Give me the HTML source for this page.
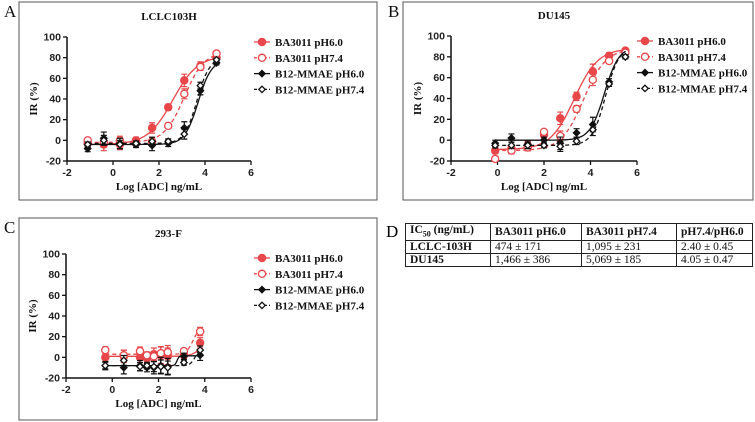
<!DOCTYPE html>
<html><head><meta charset="utf-8">
<style>
html,body{margin:0;padding:0;background:#fff;}
body{width:755px;height:422px;overflow:hidden;position:relative;}
svg{position:absolute;left:0;top:0;}
.tk{font-family:"Liberation Sans",sans-serif;font-weight:bold;font-size:10.5px;fill:#222;}
.sf{font-family:"Liberation Serif",serif;font-weight:bold;fill:#111;}
.pl{font-family:"Liberation Serif",serif;font-size:17px;fill:#111;}
table{position:absolute;left:405px;top:223px;border-collapse:collapse;font-family:"Liberation Serif",serif;font-size:11.5px;color:#111;}
td{border:1px solid #222;padding:0 4px;height:12px;line-height:12px;}
td.b{font-weight:bold;}
</style></head><body>
<svg id="fig" width="755" height="422"></svg>
<div class="pl" style="position:absolute;left:386px;top:222px;font-family:'Liberation Serif',serif;font-size:17px;">D</div>
<table>
<tr><td class="b" style="width:76px">IC<sub style="font-size:8px">50</sub> (ng/mL)</td><td class="b" style="width:82px">BA3011 pH6.0</td><td class="b" style="width:86px">BA3011 pH7.4</td><td class="b" style="width:67px">pH7.4/pH6.0</td></tr>
<tr><td class="b">LCLC-103H</td><td>474 ± 171</td><td>1,095 ± 231</td><td>2.40 ± 0.45</td></tr>
<tr><td class="b">DU145</td><td>1,466 ± 386</td><td>5,069 ± 185</td><td>4.05 ± 0.47</td></tr>
</table>
<script>
// Panel A (LCLC103H)
const xA=[-1.1,-0.4,0.3,1.0,1.7,2.4,3.1,3.8,4.5];
const a_ba60=[-3,-4,-4,0,12,32,58,72,80];
const a_ba74=[0,-2,0,-3,-1,14,45,71,84];
const a_b1260=[-8,2,-3,-4,-5,-3,12,48,75];
const a_b1274=[-4,0,-4,-3,-1,-1,6,53,78];
const a_err=[3,6,5,3,5,3,6,4,2];
const a_fit=[[-4,82,2.6,0.8],[-2,86,3.1,1.0],[-4,78,3.7,1.5],[-3,80,3.65,1.6]];
// Panel B (DU145)
const xB=[-0.1,0.6,1.3,2.0,2.7,3.4,4.1,4.8,5.5];
const b_ba60=[-10,-8,-5,5,21,42,66,81,86];
const b_ba74=[-18,-10,-7,8,4,30,58,76,84];
const b_b1260=[-3,2,-4,0,-3,7,15,56,80];
const b_b1274=[-5,-5,-5,-5,-6,-1,10,54,80];
const b_err=[3,4,4,3,6,4,7,3,2];
const b_fit=[[-9,88,3.3,0.85],[-10,88,3.7,0.9],[0,90,4.6,1.4],[-5,90,4.65,1.5]];
// Panel C (293-F)
const xC=[-0.3,0.5,1.2,1.5,1.8,2.1,2.4,3.1,3.8];
const c_ba60=[0,1,0,-1,3,2,1,2,14];
const c_ba74=[7,2,6,2,1,4,5,6,25];
const c_b1260=[-8,-10,-8,-10,-10,-8,-9,1,2];
const c_b1274=[-8,-3,-9,-8,-9,-9,-10,-5,7];
const c_err=[4,6,5,4,6,8,8,3,5];
const c_fit=[[1,20,3.9,2],[3,30,3.5,3],[-8,1.5,2.8,10],[-8,10,3.6,4]];
const yTicks=[-20,0,20,40,60,80,100];
const xTicks=[-2,0,2,4,6];
const seriesNames=["BA3011 pH6.0","BA3011 pH7.4","B12-MMAE pH6.0","B12-MMAE pH7.4"];

const NS="http://www.w3.org/2000/svg";
const svg=document.getElementById('fig');
function mk(tag,attrs,parent,txt){const e=document.createElementNS(NS,tag);for(const k in attrs)e.setAttribute(k,attrs[k]);if(txt!==undefined)e.textContent=txt;(parent||svg).appendChild(e);return e;}
const RED="#e8474a";
const styles=[{c:RED,dash:"",fill:true,m:"circle"},{c:RED,dash:"4,3",fill:false,m:"circle"},{c:"#111",dash:"",fill:true,m:"diamond"},{c:"#111",dash:"4,3",fill:false,m:"diamond"}];
function marker(g,kind,s,x,y,r){
  if(kind==="circle"){const e=mk('circle',{cx:x,cy:y,r:r,fill:s.fill?s.c:'#fff',stroke:s.c,'stroke-width':1.3},g);return e;}
  const e=mk('polygon',{points:`${x},${y-r} ${x+r},${y} ${x},${y+r} ${x-r},${y}`,fill:s.fill?s.c:'#fff',stroke:s.c,'stroke-width':1.3},g);return e;
}
function panel(p){
  const g=mk('g',{});
  
  
  const box=mk('rect',{x:p.box[0],y:p.box[1],width:p.box[2],height:p.box[3],fill:'none',stroke:'#555','stroke-width':1},g);
  
  const lab=mk('text',{x:p.box[0]-15,y:p.box[1]+15,class:'pl'},g,p.id.toUpperCase());
  
  const X=v=>p.x0+(v+2)/8*(p.x1-p.x0);
  const Y=v=>p.yb+(v+20)/120*(p.yt-p.yb);
  const t=mk('text',{x:(p.x0+p.x1)/2+10,y:p.yt-17,class:'sf','font-size':11,'text-anchor':'middle'},g,p.title);
  
  const ya=mk('line',{x1:p.x0,y1:p.yt,x2:p.x0,y2:p.yb,stroke:'#111','stroke-width':1.5},g);
  
  const xa=mk('line',{x1:p.x0,y1:p.yb,x2:p.x1,y2:p.yb,stroke:'#111','stroke-width':1.5},g);
  
  yTicks.forEach(v=>{mk('line',{x1:p.x0-4,x2:p.x0,y1:Y(v),y2:Y(v),stroke:'#111','stroke-width':1.3},g);
    const l=mk('text',{x:p.x0-6,y:Y(v)+3.5,class:'tk','text-anchor':'end'},g,v);
    });
  xTicks.forEach(v=>{mk('line',{x1:X(v),x2:X(v),y1:p.yb,y2:p.yb+4,stroke:'#111','stroke-width':1.3},g);
    const l=mk('text',{x:X(v),y:p.yb+15,class:'tk','text-anchor':'middle'},g,v);
    });
  const yt=mk('text',{x:0,y:0,class:'sf','font-size':11,'text-anchor':'middle',transform:`translate(${p.x0-30},${(p.yt+p.yb)/2}) rotate(-90)`},g,'IR (%)');
  
  const xt=mk('text',{x:(p.x0+p.x1)/2,y:p.yb+29,class:'sf','font-size':11,'text-anchor':'middle'},g,'Log [ADC] ng/mL');
  
  p.series.forEach((ys,i)=>{
    const s=styles[i];const f=p.fit[i];
    const sg=mk('g',{},g);
    
    
    let d='';const xs=p.xs;const lo=xs[0],hi=xs[xs.length-1];
    for(let k=0;k<=80;k++){const xv=lo+(hi-lo)*k/80;const yv=f[0]+(f[1]-f[0])/(1+Math.pow(10,(f[2]-xv)*f[3]));d+=(k?'L':'M')+X(xv).toFixed(1)+','+Y(yv).toFixed(1);}
    const c=mk('path',{d:d,fill:'none',stroke:s.c,'stroke-width':1.3,'stroke-dasharray':s.dash},sg);
    
    ys.forEach((v,j)=>{const e=p.err[j]*(i%2?0.8:1);const cx=X(xs[j]);
      mk('path',{d:`M${cx},${Y(v+e)}V${Y(v-e)}M${cx-3},${Y(v+e)}h6M${cx-3},${Y(v-e)}h6`,stroke:s.c,'stroke-width':1.2,fill:'none'},sg);
      const m=marker(sg,s.m,s,cx,Y(v),s.m==='circle'?3.6:3.2);
      });
  });
  seriesNames.forEach((n,i)=>{const s=styles[i];const yy=p.leg[1]+i*15.8;
    const lg=mk('g',{},g);
    
    mk('line',{x1:p.leg[0]-8,x2:p.leg[0]+8,y1:yy,y2:yy,stroke:s.c,'stroke-width':1.3,'stroke-dasharray':s.dash?'3,2':''},lg);
    marker(lg,s.m,s,p.leg[0],yy,s.m==='circle'?3.6:3.2);
    mk('text',{x:p.leg[0]+13,y:yy+4,class:'sf','font-size':11},lg,n);});
}
panel({id:'a',title:'LCLC103H',box:[19,2,358,198],x0:67,x1:251,yt:37,yb:161,leg:[262,42],xs:xA,series:[a_ba60,a_ba74,a_b1260,a_b1274],err:a_err,fit:a_fit});
panel({id:'b',title:'DU145',box:[403,2,350,198],x0:451,x1:637,yt:36,yb:161,leg:[645,41],xs:xB,series:[b_ba60,b_ba74,b_b1260,b_b1274],err:b_err,fit:b_fit});
panel({id:'c',title:'293-F',box:[19,218,358,202],x0:66,x1:251,yt:254,yb:378,leg:[262,258],xs:xC,series:[c_ba60,c_ba74,c_b1260,c_b1274],err:c_err,fit:c_fit});
</script>
</body></html>
